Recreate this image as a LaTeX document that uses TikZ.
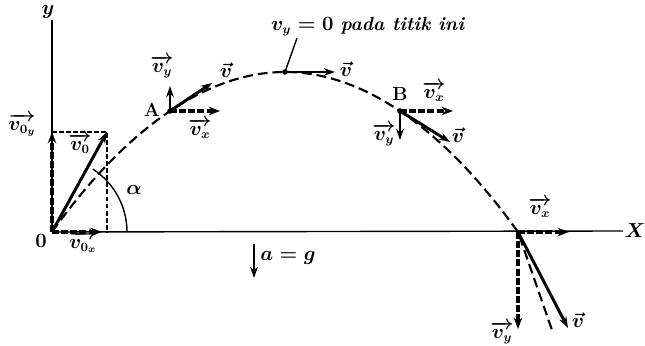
\documentclass[tikz,border=0pt]{standalone}
\usepackage{amsmath}
\usetikzlibrary{arrows.meta}
\begin{document}
\begin{tikzpicture}[x=0.025cm, y=0.025cm,
  font=\bfseries\boldmath\fontsize{13.5}{16}\selectfont,
  every node/.style={inner sep=1pt},
  axis/.style={line width=1pt},
  trajectory/.style={line width=1.5pt, dash pattern=on 7pt off 3.5pt},
  helper/.style={line width=0.8pt, dash pattern=on 3.5pt off 1.5pt},
  velocity/.style={line width=2.1pt, -{Stealth[length=8pt,width=5.5pt]}},
  component/.style={line width=2.7pt, dash pattern=on 5pt off 1.5pt, -{Stealth[length=8pt,width=6pt]}},
  point/.style={circle, fill, inner sep=1.4pt}]
\useasboundingbox (-52,-114) rectangle (593,232);
% axes
\coordinate (O) at (0,0);
\node (ylab) at (-4,220) {$y$};
\node (xlab) at (583,1) {$X$};
\node (olab) at (-11,-9) {$0$};
\draw[axis] (O) -- (O |- ylab.south);
\draw[axis] (O) -- (xlab.west);
% path of the projectile
\coordinate (top) at (233,160);
\coordinate (L) at (466,0);
\coordinate (tail) at (501,-101);
\draw[trajectory] (O) parabola bend (top) (L) -- (tail);
% launch
\coordinate (v0) at (55,100);
\coordinate (v0y) at (0,100);
\coordinate (v0x) at (50,0);
\draw[helper] (v0y) -- (v0) -- (v0 |- O);
\draw[axis] (75,0) arc [start angle = 0, end angle = 57, radius = 75];
\node (alpha) at (82,42) {$\alpha$};
\draw[component] (O) -- (v0y);
\draw[component] (O) -- (v0x);
\draw[velocity] (O) -- (v0);
\node (v0lab) at (28,88) {$\overrightarrow{v_0}$};
\node (v0ylab) at (-30,107) {$\overrightarrow{v_{0_y}}$};
\node (v0xlab) at (31,-10) {$\overrightarrow{v_{0_x}}$};
% point A
\node[point] (A) at (118,121) {};
\node (Alab) at (100,122) {A};
\coordinate (Avy) at (118,146);
\coordinate (Avx) at (168,121);
\coordinate (Av) at (160,149);
\draw[velocity] (A.center) -- (Avy);
\draw[component] (A.center) -- (Avx);
\draw[velocity] (A.center) -- (Av);
\node (Avylab) at (110,165) {$\overrightarrow{v_y}$};
\node (Avxlab) at (148,103) {$\overrightarrow{v_x}$};
\node (Avlab) at (174,162) {$\vec{v}$};
% highest point
\node[point] (H) at (top) {};
\coordinate (Hv) at (283,160);
\draw[velocity] (H.center) -- (Hv);
\node (Hvlab) at (294,163) {$\vec{v}$};
\node (Hlab) at (316,205) {$v_y = 0$ \textit{pada titik ini}};
\draw[axis] (Hlab.south -| 245,0) -- (H.center);
% point B
\node[point] (B) at (348,121) {};
\node (Blab) at (348,138) {B};
\coordinate (Bvx) at (401,121);
\coordinate (Bvy) at (348,92);
\coordinate (Bv) at (398,90);
\draw[component] (B.center) -- (Bvx);
\draw[velocity] (B.center) -- (Bvy);
\draw[velocity] (B.center) -- (Bv);
\node (Bvxlab) at (382,140) {$\overrightarrow{v_x}$};
\node (Bvylab) at (332,97) {$\overrightarrow{v_y}$};
\node (Bvlab) at (406,97) {$\vec{v}$};
% landing
\coordinate (Lvx) at (517,0);
\coordinate (Lvy) at (466,-97);
\coordinate (Lv) at (516,-96);
\draw[component] (L) -- (Lvx);
\draw[component] (L) -- (Lvy);
\draw[velocity] (L) -- (Lv);
\node (Lvxlab) at (488,24) {$\overrightarrow{v_x}$};
\node (Lvylab) at (450,-101) {$\overrightarrow{v_y}$};
\node (Lvlab) at (526,-88) {$\vec{v}$};
% gravity
\coordinate (g1) at (202,-12);
\coordinate (g2) at (202,-46);
\draw[velocity] (g1) -- (g2);
\node (glab) at (236,-26) {$a = g$};
\end{tikzpicture}
\end{document}
